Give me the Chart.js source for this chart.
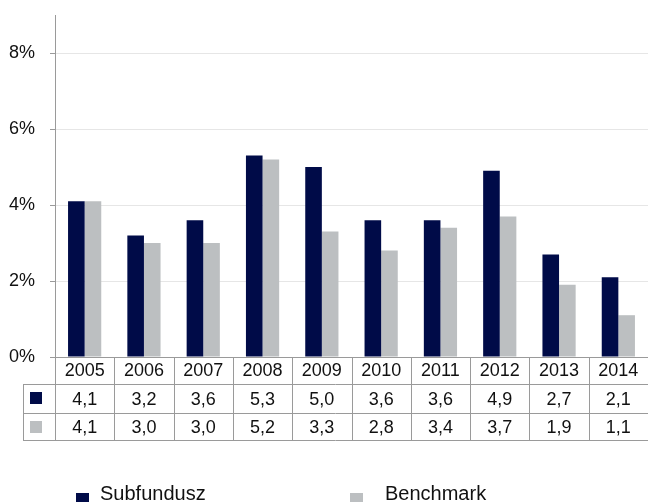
<!DOCTYPE html>
<html>
<head>
<meta charset="utf-8">
<script src="https://cdn.jsdelivr.net/npm/chart.js@4.4.1/dist/chart.umd.min.js"></script>
<style>
  html, body { margin: 0; padding: 0; background: #fff; }
  #wrap { width: 648px; height: 502px; }
</style>
</head>
<body>
<div id="wrap"><canvas id="chart" width="648" height="502"></canvas></div>
<script>
const years = ['2005', '2006', '2007', '2008', '2009', '2010', '2011', '2012', '2013', '2014'];
const subfundusz = [4.1, 3.2, 3.6, 5.3, 5.0, 3.6, 3.6, 4.9, 2.7, 2.1];
const benchmark = [4.1, 3.0, 3.0, 5.2, 3.3, 2.8, 3.4, 3.7, 1.9, 1.1];
const seriesNames = ['Subfundusz', 'Benchmark'];

const NAVY = '#000b48';
const GREY = '#bcbfc1';
const LINE = '#9a9a9a';
const FONT = "'Liberation Sans', Arial, sans-serif";

const fmt = v => v.toFixed(1).replace('.', ',');

// data table under the plot + legend at the bottom
const tablePlugin = {
    id: 'dataTable',
    afterDraw(chart) {
        const ctx = chart.ctx;
        const area = chart.chartArea;
        const xs = chart.scales.x;
        const colW = area.width / years.length;
        const rows = [area.bottom, 384, 413, 440];
        const leftCol = 23;

        ctx.save();
        ctx.strokeStyle = LINE;
        ctx.lineWidth = 1;
        ctx.beginPath();
        // horizontal lines
        ctx.moveTo(area.left, rows[0] + 0.5); ctx.lineTo(area.right, rows[0] + 0.5);
        for (let r = 1; r < rows.length; r++) {
            ctx.moveTo(leftCol, rows[r] + 0.5); ctx.lineTo(area.right, rows[r] + 0.5);
        }
        // vertical lines
        ctx.moveTo(leftCol + 0.5, rows[1]); ctx.lineTo(leftCol + 0.5, rows[3]);
        for (let i = 0; i <= years.length; i++) {
            const x = Math.round(area.left + i * colW) + 0.5;
            ctx.moveTo(x, rows[0]); ctx.lineTo(x, rows[3]);
        }
        ctx.stroke();

        ctx.fillStyle = '#111';
        ctx.font = '18px ' + FONT;
        ctx.textAlign = 'center';
        ctx.textBaseline = 'middle';
        years.forEach((y, i) => {
            const cx = xs.getPixelForValue(i);
            ctx.fillText(y, cx, (rows[0] + rows[1]) / 2 + 1);
            ctx.fillText(fmt(subfundusz[i]), cx, (rows[1] + rows[2]) / 2 + 2);
            ctx.fillText(fmt(benchmark[i]), cx, (rows[2] + rows[3]) / 2 + 2);
        });

        // series swatches in the table
        ctx.fillStyle = NAVY;
        ctx.fillRect(30, 392, 12, 12);
        ctx.fillStyle = GREY;
        ctx.fillRect(30, 421, 12, 12);

        // legend
        ctx.textAlign = 'left';
        ctx.textBaseline = 'alphabetic';
        ctx.font = '20px ' + FONT;
        ctx.fillStyle = NAVY;
        ctx.fillRect(76, 493, 13, 13);
        ctx.fillStyle = GREY;
        ctx.fillRect(350, 493, 13, 13);
        ctx.fillStyle = '#111';
        ctx.fillText(seriesNames[0], 100, 500);
        ctx.fillText(seriesNames[1], 385, 500);
        ctx.restore();
    }
};

new Chart(document.getElementById('chart'), {
    type: 'bar',
    data: {
        labels: years,
        datasets: [
            { label: seriesNames[0], data: subfundusz, backgroundColor: NAVY },
            { label: seriesNames[1], data: benchmark, backgroundColor: GREY }
        ]
    },
    options: {
        responsive: false,
        animation: false,
        devicePixelRatio: 1,
        layout: { padding: { top: 15, bottom: 145, left: 0, right: 0 } },
        datasets: { bar: { categoryPercentage: 0.56, barPercentage: 1.0 } },
        plugins: { legend: { display: false }, tooltip: { enabled: false } },
        scales: {
            x: { display: false },
            y: {
                min: 0, max: 9,
                afterFit: s => { s.width = 55; s.paddingTop = 0; s.paddingBottom = 0; },
                afterBuildTicks: s => { s.ticks = s.ticks.filter(t => t.value <= 8); },
                ticks: {
                    stepSize: 2,
                    padding: 15,
                    color: '#111',
                    font: { family: FONT, size: 18 },
                    callback: v => v + '%'
                },
                grid: {
                    color: c => c.tick && c.tick.value === 0 ? LINE : '#e6e6e6',
                    tickColor: LINE,
                    tickLength: 5
                },
                border: { color: LINE }
            }
        }
    },
    plugins: [tablePlugin]
});
</script>
</body>
</html>
